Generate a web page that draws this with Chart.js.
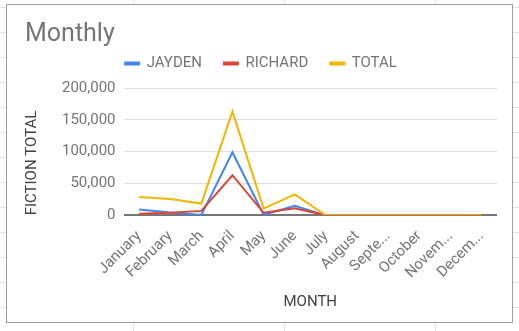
<!DOCTYPE html>
<html>
<head>
<meta charset="utf-8">
<script src="https://cdn.jsdelivr.net/npm/chart.js@4/dist/chart.umd.min.js"></script>
<style>
  html, body { margin: 0; padding: 0; }
  body {
    width: 519px; height: 331px; overflow: hidden; position: relative;
    background-color: #fff;
    background-image:
      linear-gradient(to right, #e2e2e2 1px, transparent 1px),
      linear-gradient(to bottom, #e2e2e2 1px, transparent 1px);
    background-size: 151px 100%, 100% 25px;
    background-position: 133px 0, 0 7px;
  }
  #box {
    position: absolute; left: 6px; top: 4px;
    width: 505px; height: 317px;
    border: 1px solid #9e9e9e; background: #fff;
  }
</style>
</head>
<body>
<div id="box"><canvas id="chart" width="505" height="317"></canvas></div>
<script>
// months (long names are cut short like the sheet does)
const months = ['January', 'February', 'March', 'April', 'May', 'June', 'July',
  'August', 'Septe...', 'October', 'Novem...', 'Decem...'];
const jayden  = [9000, 4500, 500, 99000, 1000, 15000, 0, 0, 0, 0, 0, 0];
const richard = [2700, 4000, 7000, 63000, 4000, 11000, 0, 0, 0, 0, 0, 0];
const total   = [29000, 25500, 18500, 163000, 10500, 33000, 0, 0, 0, 0, 0, 0];
const yTicks  = [0, 50000, 100000, 150000, 200000];

const font = 'Roboto';

function line(label, data, color, order) {
  return {
    label: label,
    data: data,
    borderColor: color,
    backgroundColor: color,
    borderWidth: 2,
    pointRadius: 0,
    tension: 0,
    order: order,
  };
}

// legend height fixed so the plot starts at the right spot
const legendHeight = {
  id: 'legendHeight',
  beforeInit(chart) {
    const fit = chart.legend.fit;
    chart.legend.fit = function () {
      fit.bind(chart.legend)();
      this.height = 54;
    };
  },
};

new Chart(document.getElementById('chart'), {
  type: 'line',
  data: {
    labels: months,
    datasets: [
      line('JAYDEN', jayden, '#4285f4', 2),
      line('RICHARD', richard, '#db4437', 1),
      line('TOTAL', total, '#f4b400', 0),
    ],
  },
  plugins: [legendHeight],
  options: {
    responsive: false,
    animation: false,
    layout: { padding: { left: 18, right: 15, top: 15, bottom: 5 } },
    plugins: {
      tooltip: { enabled: false },
      title: {
        display: true,
        text: 'Monthly',
        align: 'start',
        color: '#757575',
        font: { family: font, size: 25, weight: 'normal' },
        padding: { top: 0, bottom: -16 },
      },
      legend: {
        labels: {
          color: '#757575',
          font: { family: font, size: 15 },
          boxWidth: 14,
          boxHeight: 2,
          padding: 22,
          sort: (a, b) => a.datasetIndex - b.datasetIndex,
        },
      },
    },
    scales: {
      x: {
        offset: true,
        grid: { display: false },
        border: { display: false },
        ticks: {
          color: '#757575',
          font: { family: font, size: 15 },
          maxRotation: 45,
          minRotation: 45,
          autoSkip: false,
          padding: 4,
        },
        title: {
          display: true,
          text: 'MONTH',
          color: '#424242',
          font: { family: font, size: 15 },
          padding: { top: 7, bottom: 6 },
        },
      },
      y: {
        min: 0,
        max: 200000,
        afterBuildTicks: (axis) => { axis.ticks = yTicks.map((v) => ({ value: v })); },
        grid: {
          color: (c) => (c.tick && c.tick.value === 0 ? '#757575' : '#e0e0e0'),
          lineWidth: (c) => (c.tick && c.tick.value === 0 ? 2 : 1),
          drawTicks: false,
        },
        border: { display: false },
        ticks: {
          color: '#757575',
          font: { family: font, size: 15 },
          padding: 8,
          callback: (v) => v.toLocaleString('en-US'),
        },
        title: {
          display: true,
          text: 'FICTION TOTAL',
          align: 'start',
          color: '#424242',
          font: { family: font, size: 15 },
          padding: { top: -2, bottom: 13 },
        },
      },
    },
  },
});
</script>
</body>
</html>
